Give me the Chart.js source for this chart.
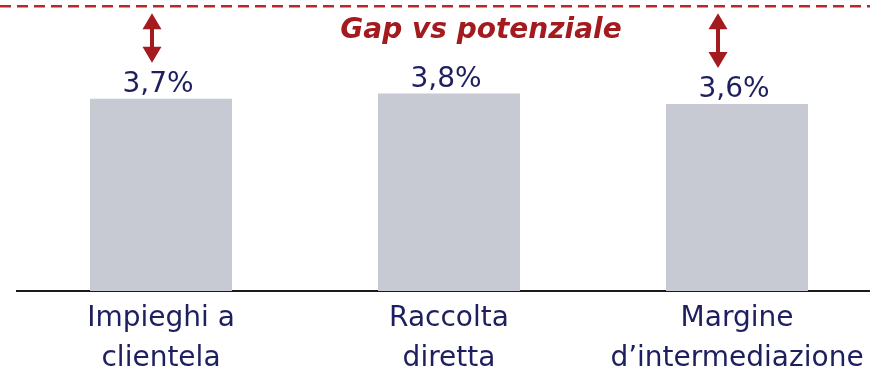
<!DOCTYPE html>
<html lang="it">
<head>
    <meta charset="UTF-8">
    <title>Gap vs potenziale</title>
    <script src="https://cdn.jsdelivr.net/npm/chart.js"></script>
    <style>
        html, body { margin: 0; padding: 0; background: #fff; overflow: hidden; }
        #wrap { width: 881px; height: 374px; }
    </style>
</head>
<body>
    <div id="wrap"><canvas id="grafico" width="881" height="374"></canvas></div>

    <script>
        // dati
        const categorie = [['Impieghi a', 'clientela'], ['Raccolta', 'diretta'], ['Margine', 'd\u2019intermediazione']];
        const valori = [3.7, 3.8, 3.6];
        const potenziale = 5.48;           // livello della linea tratteggiata
        const frecceGap = [true, false, true];
        const titoloGap = 'Gap vs potenziale';

        const blu = '#1d1f5f';
        const rosso = '#a31b1e';
        const font = '"DejaVu Sans", sans-serif';

        const fmt = v => v.toFixed(1).replace('.', ',') + '%';

        function freccia(ctx, x, y1, y2) {
            const head = 16, hw = 9.5;
            ctx.fillStyle = rosso;
            ctx.strokeStyle = rosso;
            ctx.lineWidth = 4;
            ctx.beginPath();
            ctx.moveTo(x, y1 + head - 2);
            ctx.lineTo(x, y2 - head + 2);
            ctx.stroke();
            ctx.beginPath();
            ctx.moveTo(x, y1);
            ctx.lineTo(x + hw, y1 + head);
            ctx.lineTo(x - hw, y1 + head);
            ctx.closePath();
            ctx.fill();
            ctx.beginPath();
            ctx.moveTo(x, y2);
            ctx.lineTo(x + hw, y2 - head);
            ctx.lineTo(x - hw, y2 - head);
            ctx.closePath();
            ctx.fill();
        }

        // linea del potenziale, frecce, titolo ed etichette dei valori
        const annotazioni = {
            id: 'annotazioni',
            afterDatasetsDraw(chart) {
                const ctx = chart.ctx;
                const xs = chart.scales.x, ys = chart.scales.y;
                const meta = chart.getDatasetMeta(0);
                const yPot = ys.getPixelForValue(potenziale);

                ctx.save();
                ctx.strokeStyle = '#b8272b';
                ctx.lineWidth = 2.5;
                ctx.setLineDash([11, 6]);
                ctx.beginPath();
                ctx.moveTo(0, yPot);
                ctx.lineTo(chart.width, yPot);
                ctx.stroke();
                ctx.setLineDash([]);

                ctx.font = 'italic bold 28px ' + font;
                ctx.fillStyle = rosso;
                ctx.textAlign = 'center';
                ctx.textBaseline = 'alphabetic';
                ctx.fillText(titoloGap, xs.getPixelForValue(1) + 32, yPot + 32);

                ctx.font = '28px ' + font;
                ctx.fillStyle = blu;
                meta.data.forEach((bar, i) => {
                    const base = bar.y - 7;
                    ctx.fillText(fmt(valori[i]), bar.x - 3, base);
                    if (frecceGap[i]) {
                        const dx = i === 0 ? -9 : -19;
                        freccia(ctx, bar.x + dx, yPot + 7, base - 29);
                        ctx.fillStyle = blu;
                    }
                });
                ctx.restore();
            }
        };

        const ctx = document.getElementById('grafico').getContext('2d');
        new Chart(ctx, {
            type: 'bar',
            data: {
                labels: categorie,
                datasets: [{
                    data: valori,
                    backgroundColor: '#c7cad3',
                    borderWidth: 0,
                    categoryPercentage: 1,
                    barPercentage: 0.493
                }]
            },
            options: {
                responsive: false,
                animation: false,
                layout: { padding: { left: 17, right: 0, top: 0, bottom: 0 } },
                scales: {
                    x: {
                        grid: { display: false },
                        border: { display: true, color: '#1a1a1a', width: 2 },
                        ticks: {
                            color: blu,
                            padding: 0,
                            maxRotation: 0,
                            autoSkip: false,
                            font: { family: font, size: 28, lineHeight: 40 / 28 }
                        },
                        afterFit: s => { s.height = 83; }
                    },
                    y: { display: false, min: 0, max: 5.6 }
                },
                plugins: {
                    legend: { display: false },
                    tooltip: { enabled: false }
                }
            },
            plugins: [annotazioni]
        });
    </script>
</body>
</html>
